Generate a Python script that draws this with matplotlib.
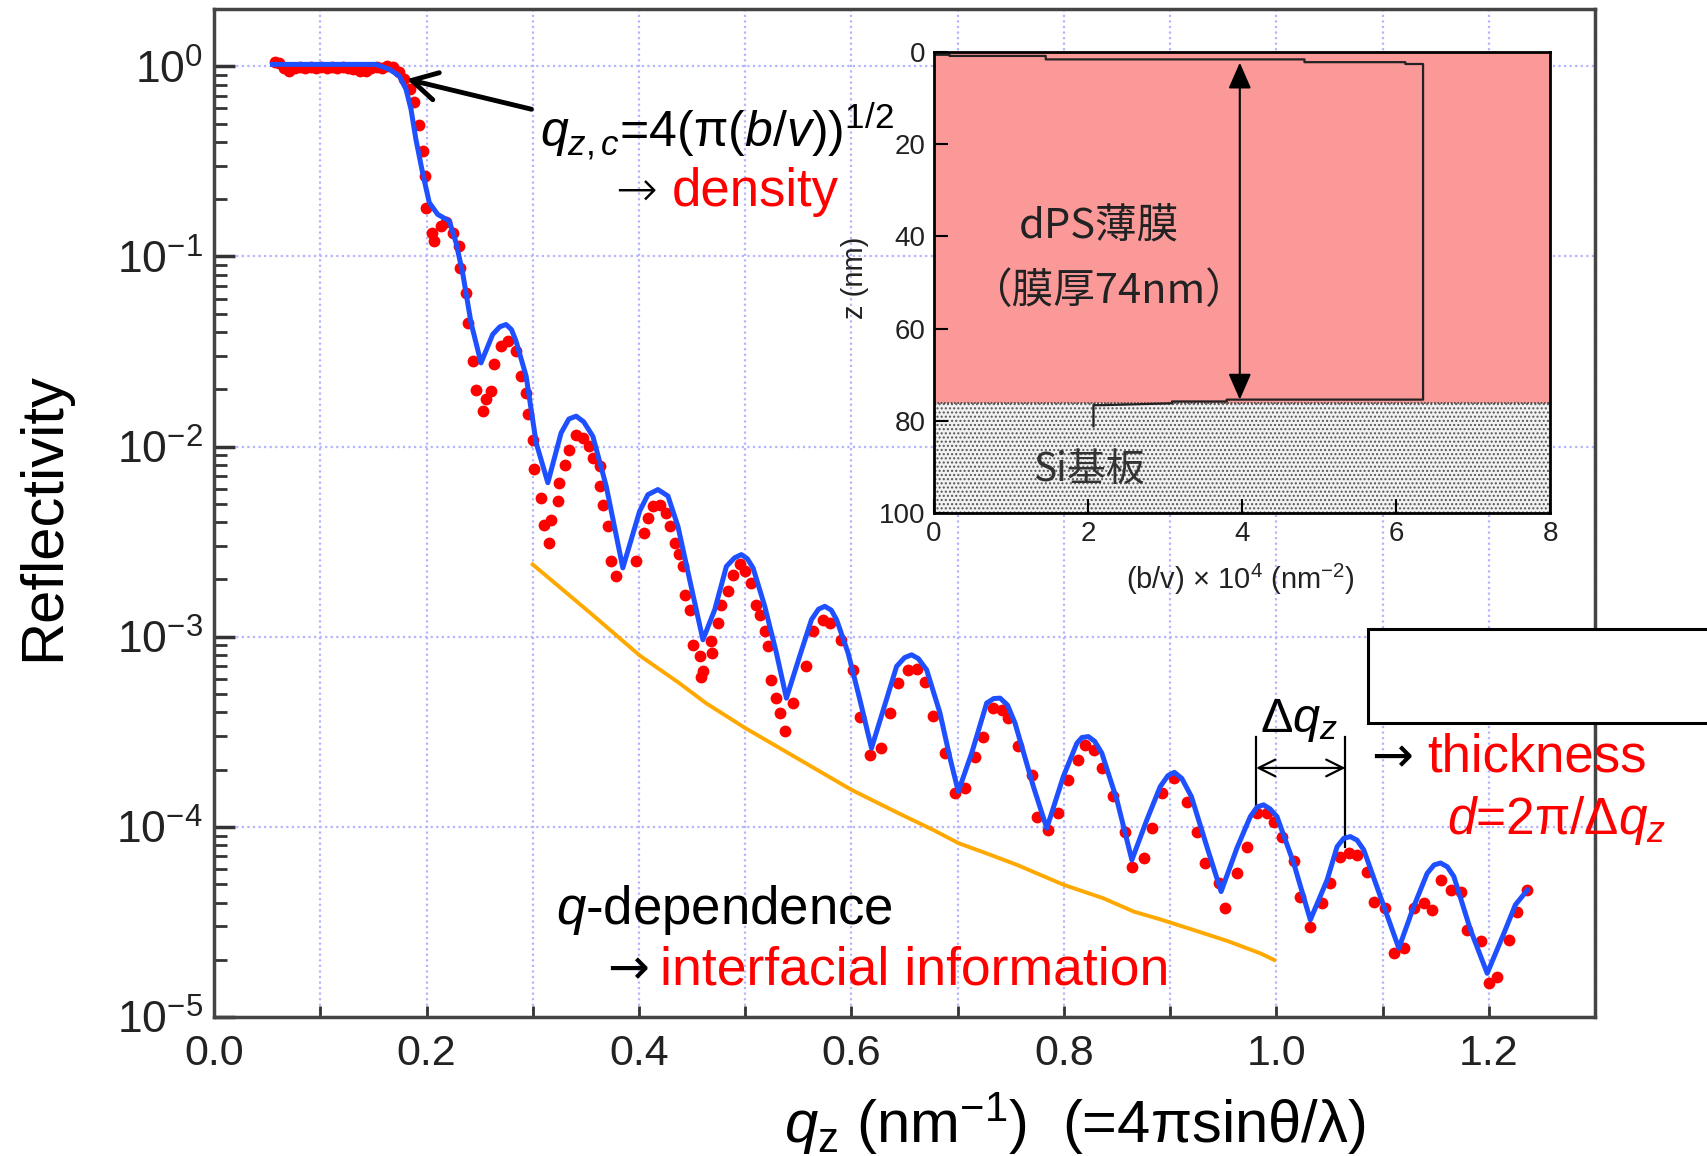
import matplotlib
matplotlib.use('Agg')
import matplotlib.pyplot as plt
import numpy as np
from matplotlib.patches import Rectangle
from matplotlib.ticker import MultipleLocator, LogLocator, FuncFormatter, NullFormatter

plt.rcParams['font.family'] = ['Liberation Sans', 'DejaVu Sans']
plt.rcParams['mathtext.fontset'] = 'custom'
plt.rcParams['mathtext.rm'] = 'Liberation Sans'
plt.rcParams['mathtext.it'] = 'Liberation Sans:italic'
plt.rcParams['mathtext.bf'] = 'Liberation Sans:bold'

# measured reflectivity (q in nm^-1, log10 R)
q_exp = [0.057, 0.061, 0.066, 0.071, 0.076, 0.081, 0.086, 0.091, 0.096, 0.101,
         0.106, 0.111, 0.116, 0.121, 0.126, 0.131, 0.137, 0.143, 0.148, 0.153,
         0.158, 0.163, 0.168, 0.174, 0.179, 0.184, 0.1885, 0.193, 0.197, 0.1986,
         0.1995, 0.2056, 0.2074, 0.2136, 0.2183, 0.2245, 0.231, 0.2315, 0.237, 0.2388,
         0.2433, 0.2466, 0.2529, 0.256, 0.2607, 0.264, 0.270, 0.2765, 0.2843, 0.289,
         0.2938, 0.2953, 0.300, 0.3016, 0.308, 0.311, 0.3157, 0.3173, 0.3236, 0.325,
         0.330, 0.3346, 0.341, 0.347, 0.3534, 0.3566, 0.3629, 0.3635, 0.366, 0.3707,
         0.3739, 0.3786, 0.3974, 0.4045, 0.4084, 0.413, 0.4194, 0.4257, 0.4288, 0.4335,
         0.4375, 0.4414, 0.443, 0.4477, 0.4508, 0.457, 0.4587, 0.4602, 0.468, 0.4685,
         0.4744, 0.4775, 0.4838, 0.4885, 0.4948, 0.4995, 0.5058, 0.5105, 0.5137, 0.5184,
         0.5215, 0.5247, 0.5294, 0.5325, 0.5372, 0.545, 0.5577, 0.5639, 0.5733, 0.5796,
         0.5906, 0.6016, 0.6079, 0.6173, 0.6283, 0.6362, 0.644, 0.6534, 0.6613, 0.669,
         0.677, 0.688, 0.6975, 0.7069, 0.7163, 0.7241, 0.7336, 0.7414, 0.7477, 0.7571,
         0.7697, 0.7744, 0.7854, 0.7948, 0.8043, 0.8137, 0.820, 0.8279, 0.8357, 0.8467,
         0.8577, 0.864, 0.875, 0.8828, 0.8923, 0.9032, 0.9158, 0.9253, 0.9331, 0.9456,
         0.9519, 0.963, 0.9724, 0.9818, 0.9912, 0.9975, 1.0054, 1.0163, 1.0226, 1.032,
         1.043, 1.0509, 1.0603, 1.0681, 1.076, 1.0855, 1.0917, 1.1027, 1.1106, 1.120,
         1.1294, 1.1388, 1.1467, 1.1546, 1.164, 1.1734, 1.1797, 1.1923, 1.2001, 1.208,
         1.2189, 1.2268, 1.2363]
logR_exp = [0.02, 0.015, -0.01, -0.025, -0.01, -0.005, -0.01, -0.005, -0.01, -0.005,
            -0.01, -0.005, -0.01, -0.005, -0.01, -0.015, -0.025, -0.025, -0.01, -0.005,
            -0.01, 0.0, -0.005, -0.03, -0.068, -0.12, -0.19, -0.31, -0.446, -0.577,
            -0.743, -0.875, -0.919, -0.84, -0.82, -0.876, -0.946, -1.06, -1.19, -1.35,
            -1.55, -1.70, -1.815, -1.75, -1.709, -1.568, -1.472, -1.446, -1.498, -1.63,
            -1.717, -1.83, -1.963, -2.12, -2.27, -2.41, -2.507, -2.384, -2.288, -2.19,
            -2.095, -2.016, -1.937, -1.954, -1.998, -2.06, -2.104, -2.209, -2.305, -2.42,
            -2.60, -2.68, -2.60, -2.454, -2.375, -2.314, -2.305, -2.349, -2.42, -2.507,
            -2.565, -2.63, -2.779, -2.858, -3.042, -3.10, -3.21, -3.18, -3.025, -3.086,
            -2.928, -2.832, -2.76, -2.674, -2.62, -2.656, -2.717, -2.832, -2.884, -2.972,
            -3.05, -3.226, -3.323, -3.40, -3.498, -3.349, -3.156, -2.972, -2.91, -2.928,
            -3.016, -3.174, -3.42, -3.62, -3.586, -3.40, -3.244, -3.174, -3.17, -3.24,
            -3.415, -3.612, -3.823, -3.796, -3.63, -3.525, -3.375, -3.384, -3.428, -3.577,
            -3.726, -3.946, -4.016, -3.928, -3.753, -3.647, -3.568, -3.595, -3.691, -3.84,
            -4.025, -4.209, -4.165, -4.007, -3.823, -3.744, -3.867, -4.025, -4.19, -4.296,
            -4.428, -4.244, -4.104, -3.928, -3.928, -3.972, -4.051, -4.182, -4.367, -4.525,
            -4.40, -4.296, -4.156, -4.139, -4.147, -4.235, -4.393, -4.428, -4.665, -4.638,
            -4.428, -4.40, -4.437, -4.279, -4.332, -4.34, -4.542, -4.60, -4.823, -4.788,
            -4.595, -4.446, -4.332]

# model fit
q_fit = [0.055, 0.1524, 0.165, 0.1744, 0.1807, 0.1854, 0.190, 0.1963, 0.2026, 0.2105,
         0.2215, 0.2278, 0.234, 0.2419, 0.2513, 0.2623, 0.2690, 0.2749, 0.2800, 0.2843,
         0.2938, 0.3032, 0.3142, 0.3267, 0.3340, 0.3409, 0.3480, 0.3566, 0.3692, 0.3848,
         0.4006, 0.4084, 0.4178, 0.4273, 0.4367, 0.4477, 0.4602, 0.4713, 0.4823, 0.4900,
         0.4964, 0.5020, 0.5074, 0.5184, 0.5294, 0.5388, 0.5514, 0.5624, 0.5690, 0.5749,
         0.5810, 0.586, 0.5969, 0.6079, 0.6189, 0.633, 0.6425, 0.6500, 0.6566, 0.6630,
         0.6708, 0.6833, 0.6927, 0.7006, 0.7132, 0.7273, 0.7340, 0.740, 0.7470, 0.754,
         0.7713, 0.7839, 0.7995, 0.8122, 0.8170, 0.823, 0.8290, 0.8357, 0.8499, 0.864,
         0.8781, 0.8907, 0.8980, 0.904, 0.9110, 0.920, 0.9355, 0.948, 0.963, 0.9755,
         0.9820, 0.988, 0.9940, 1.0006, 1.0163, 1.032, 1.0478, 1.0572, 1.0635, 1.0697,
         1.0760, 1.0823, 1.098, 1.1153, 1.1294, 1.142, 1.1485, 1.1546, 1.1610, 1.1671,
         1.1828, 1.1985, 1.2142, 1.225, 1.2363]
logR_fit = [0.01, 0.01, -0.016, -0.051, -0.121, -0.226, -0.384, -0.56, -0.717, -0.779,
            -0.814, -0.928, -1.086, -1.349, -1.56, -1.41, -1.37, -1.358, -1.385, -1.446,
            -1.63, -1.98, -2.19, -1.928, -1.855, -1.84, -1.87, -1.946, -2.209, -2.638,
            -2.34, -2.253, -2.226, -2.26, -2.42, -2.70, -3.016, -2.858, -2.63, -2.585,
            -2.568, -2.59, -2.638, -2.84, -3.086, -3.323, -3.10, -2.91, -2.855, -2.84,
            -2.86, -2.91, -3.086, -3.33, -3.586, -3.33, -3.156, -3.11, -3.095, -3.115,
            -3.174, -3.40, -3.636, -3.814, -3.612, -3.349, -3.325, -3.323, -3.36, -3.454,
            -3.788, -4.007, -3.735, -3.56, -3.53, -3.525, -3.55, -3.612, -3.858, -4.174,
            -3.963, -3.788, -3.73, -3.713, -3.745, -3.84, -4.12, -4.34, -4.11, -3.946,
            -3.895, -3.884, -3.905, -3.946, -4.19, -4.489, -4.279, -4.104, -4.06, -4.051,
            -4.07, -4.121, -4.367, -4.638, -4.418, -4.244, -4.20, -4.19, -4.21, -4.261,
            -4.542, -4.77, -4.56, -4.41, -4.332]

# q-dependence (decay envelope)
q_env = [0.300, 0.354, 0.401, 0.438, 0.463, 0.500, 0.540, 0.600, 0.645, 0.677,
         0.701, 0.727, 0.756, 0.800, 0.837, 0.866, 0.890, 0.922, 0.954, 0.985, 0.998]
logR_env = [-2.62, -2.874, -3.10, -3.244, -3.349, -3.48, -3.61, -3.805, -3.93, -4.016,
            -4.086, -4.139, -4.20, -4.305, -4.375, -4.446, -4.485, -4.542, -4.60, -4.665, -4.70]

# SLD depth profile for the inset
profile_bv = [0, 0.2, 0.2, 1.45, 1.45, 4.81, 4.81, 6.12, 6.12, 6.35, 6.35, 3.8, 3.8,
              3.09, 3.09, 2.19, 2.07, 2.07]
profile_z = [0.6, 0.6, 0.85, 0.85, 1.6, 1.6, 2.2, 2.2, 2.6, 2.6, 75.4, 75.4, 75.8,
             75.8, 76.2, 76.6, 76.6, 81.2]
film_bottom = 76.2
film_top = 2.3
dq_peaks = [0.981, 1.065]

fig = plt.figure(figsize=(17.07, 11.56), dpi=100)
ax = fig.add_axes([0.1254, 0.1202, 0.8090, 0.8720])

ax.plot(q_env, 10**np.array(logR_env), '-', color='#ffa800', lw=2.8, zorder=2,
        solid_joinstyle='round')
ax.plot(q_exp, 10**np.array(logR_exp), 'o', color='#ff0000', ms=8.5, mew=0, zorder=3)
ax.plot(q_fit, 10**np.array(logR_fit), '-', color='#1f50ff', lw=3.6, zorder=4,
        solid_joinstyle='round')

ax.set_yscale('log')
ax.set_xlim(0, 1.3)
ax.set_ylim(1e-5, 2)
ax.xaxis.set_major_locator(MultipleLocator(0.2))
ax.xaxis.set_minor_locator(MultipleLocator(0.1))
ax.xaxis.set_major_formatter(FuncFormatter(lambda v, p: '%.1f' % v))
ax.yaxis.set_major_locator(LogLocator(base=10, numticks=10))
ax.yaxis.set_minor_locator(LogLocator(base=10, subs=np.arange(2, 10), numticks=10))
ax.yaxis.set_minor_formatter(NullFormatter())
ax.yaxis.set_major_formatter(FuncFormatter(
    lambda v, p: r'$\mathregular{10^{%d}}$' % round(np.log10(v))))
ax.tick_params(axis='x', which='both', direction='in', length=8, width=2,
               labelsize=31, pad=12, colors='#333', labelcolor='#222')
ax.tick_params(axis='y', which='major', direction='in', length=15, width=2.5,
               labelsize=32, pad=8, colors='#333', labelcolor='#222')
ax.tick_params(axis='y', which='minor', direction='in', length=9, width=2, colors='#333')
for s in ax.spines.values():
    s.set_color('#444')
    s.set_linewidth(2.5)
ax.set_axisbelow(True)
ax.grid(True, which='major', color='#b4b4ff', ls=(0, (1, 1.5)), lw=1.6)
ax.grid(True, which='minor', axis='x', color='#b4b4ff', ls=(0, (1, 1.5)), lw=1.6)

fig.text(0.0255, 0.553, 'Reflectivity', rotation=90, ha='center', va='center',
         fontsize=43)
fig.text(0.6298, 0.028, r'$q_{\mathregular{z}}$ (nm$^{\mathregular{-1}}$)  (=4πsinθ/λ)',
         ha='center', va='center', fontsize=43)

arrow_font = ['DejaVu Sans']

# critical edge annotation
ax.annotate('', xy=(0.1815, 10**-0.068), xytext=(0.2988, 10**-0.226),
            arrowprops=dict(arrowstyle='->,head_length=0.9,head_width=0.5', lw=3.5,
                            color='black', mutation_scale=20, shrinkA=0, shrinkB=0))
ax.text(0.307, 10**-0.42, r'$q_{z,c}$=4(π($b/v$))$^{\mathregular{1/2}}$', fontsize=36,
        ha='left', va='baseline')
ax.text(0.378, 10**-0.737, '→', fontsize=36, ha='left', va='baseline',
        family=arrow_font, fontweight='light')
ax.text(0.4307, 10**-0.737, 'density', color='red', fontsize=38, ha='left', va='baseline')

# fringe spacing
ax.plot([dq_peaks[0], dq_peaks[0]], [10**-3.526, 10**-3.937], 'k-', lw=1.6)
ax.plot([dq_peaks[1], dq_peaks[1]], [10**-3.526, 10**-4.105], 'k-', lw=1.6)
ax.annotate('', xy=(dq_peaks[0], 10**-3.69), xytext=(dq_peaks[1], 10**-3.69),
            arrowprops=dict(arrowstyle='<->,head_length=0.6,head_width=0.3', lw=1.6,
                            color='black', mutation_scale=20, shrinkA=0, shrinkB=0))
ax.text(0.985, 10**-3.50, r'Δ$q_z$', fontsize=35, ha='left', va='baseline')
ax.text(1.089, 10**-3.71, '→', fontsize=36, ha='left', va='baseline',
        family=arrow_font)
ax.text(1.142, 10**-3.71, 'thickness', color='red', fontsize=38, ha='left', va='baseline')
ax.text(1.161, 10**-4.04, r'$d$=2π/Δ$q_z$', color='red', fontsize=37, ha='left',
        va='baseline')

ax.text(0.322, 10**-4.51, r'$q$-dependence', fontsize=38, ha='left', va='baseline')
ax.text(0.370, 10**-4.83, '→', fontsize=36, ha='left', va='baseline',
        family=arrow_font)
ax.text(0.420, 10**-4.83, 'interfacial information', color='red', fontsize=38.5,
        ha='left', va='baseline')

# blank box on the right
fig.add_artist(Rectangle((0.8014, 0.3746), 0.25, 0.0813, transform=fig.transFigure,
                         facecolor='white', edgecolor='black', lw=2.2, clip_on=False))

# inset: depth profile
ax_in = fig.add_axes([0.5472, 0.5562, 0.3609, 0.3988])
ax_in.set_xlim(0, 8)
ax_in.set_ylim(100, 0)
ax_in.fill_between([0, 8], 0, film_bottom, color='#fb9999', lw=0)
ax_in.fill_between([0, 8], film_bottom, 100, facecolor='#f2f2f2', hatch='....',
                   edgecolor='#555555', lw=0)
ax_in.axhline(film_bottom, color='#444', lw=1.2, ls=(0, (1, 1)))
ax_in.plot(profile_bv, profile_z, color='#222', lw=1.6)
ax_in.annotate('', xy=(3.97, film_top), xytext=(3.97, 75.4),
               arrowprops=dict(arrowstyle='<|-|>,head_length=0.8,head_width=0.35',
                               color='black', lw=1.5, mutation_scale=20,
                               shrinkA=0, shrinkB=0))
ax_in.text(2.14, 37.7, 'dPS薄膜', fontsize=30, ha='center', va='center',
           family=['Noto Sans CJK JP'], color='#222')
ax_in.text(2.26, 52, '（膜厚74nm）', fontsize=30, ha='center', va='center',
           family=['Noto Sans CJK JP'], color='#222')
ax_in.text(2.01, 90.7, 'Si基板', fontsize=28, ha='center', va='center',
           family=['Noto Sans CJK JP'], color='#333')
ax_in.set_xticks([0, 2, 4, 6, 8])
ax_in.set_yticks([0, 20, 40, 60, 80, 100])
ax_in.tick_params(direction='in', length=10, width=1.5, labelsize=20, pad=6,
                  labelcolor='#222')
for s in ax_in.spines.values():
    s.set_color('black')
    s.set_linewidth(2)
ax_in.set_xlabel('(b/v) × 10$^{4}$ (nm$^{-2}$)', fontsize=21, color='#222')
ax_in.set_ylabel('z (nm)', fontsize=21, color='#222')
ax_in.xaxis.set_label_coords(0.498, -0.105)
ax_in.yaxis.set_label_coords(-0.105, 0.51)

plt.savefig('out.png', dpi=100)
plt.close()
